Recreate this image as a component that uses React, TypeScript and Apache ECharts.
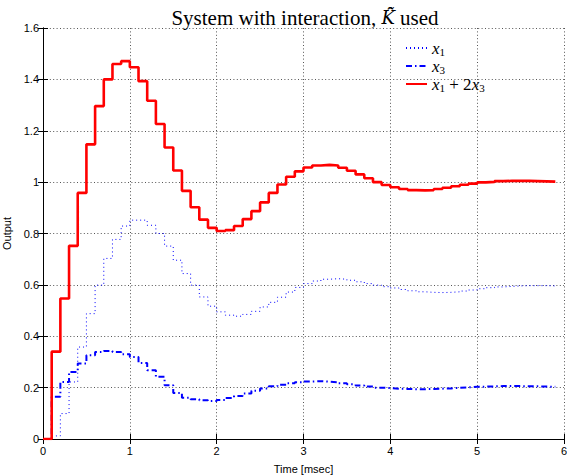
import React, { useEffect, useRef } from "react";
import * as echarts from "echarts";

// sampling instants [msec]
const times = [
  0.0, 0.1, 0.2, 0.3, 0.4, 0.5, 0.6, 0.7, 0.8, 0.9,
  1.0, 1.1, 1.2, 1.3, 1.4, 1.5, 1.6, 1.7, 1.8, 1.9,
  2.0, 2.1, 2.2, 2.3, 2.4, 2.5, 2.6, 2.7, 2.8, 2.9,
  3.0, 3.1, 3.2, 3.3, 3.4, 3.5, 3.6, 3.7, 3.8, 3.9,
  4.0, 4.1, 4.2, 4.3, 4.4, 4.5, 4.6, 4.7, 4.8, 4.9,
  5.0, 5.1, 5.2, 5.3, 5.4, 5.5, 5.6, 5.7, 5.8, 5.9,
];

const x1Values = [
  0, 0.012, 0.099, 0.222, 0.358, 0.488, 0.599, 0.703, 0.777, 0.829,
  0.852, 0.852, 0.832, 0.8, 0.751, 0.696, 0.644, 0.599, 0.553, 0.517,
  0.495, 0.482, 0.478, 0.485, 0.497, 0.514, 0.532, 0.552, 0.572, 0.59,
  0.605, 0.615, 0.622, 0.624, 0.622, 0.618, 0.612, 0.605, 0.599, 0.593,
  0.588, 0.582, 0.577, 0.573, 0.571, 0.57, 0.571, 0.573, 0.576, 0.58,
  0.585, 0.589, 0.592, 0.594, 0.596, 0.597, 0.597, 0.597, 0.596, 0.596,
];

const x3Values = [
  0, 0.164, 0.222, 0.261, 0.294, 0.326, 0.339, 0.343, 0.339, 0.33,
  0.319, 0.296, 0.268, 0.242, 0.209, 0.179, 0.161, 0.155, 0.151, 0.148,
  0.152, 0.16, 0.167, 0.177, 0.188, 0.197, 0.205, 0.211, 0.217, 0.221,
  0.224, 0.225, 0.223, 0.221, 0.217, 0.213, 0.208, 0.204, 0.2, 0.198,
  0.196, 0.195, 0.194, 0.194, 0.195, 0.196, 0.197, 0.199, 0.201, 0.203,
  0.204, 0.205, 0.206, 0.206, 0.206, 0.205, 0.205, 0.204, 0.203, 0.203,
];

const sumValues = [
  0, 0.34, 0.547, 0.752, 0.958, 1.147, 1.296, 1.4, 1.46, 1.471,
  1.447, 1.393, 1.317, 1.226, 1.135, 1.045, 0.966, 0.902, 0.854, 0.822,
  0.81, 0.813, 0.829, 0.856, 0.887, 0.921, 0.958, 0.991, 1.021, 1.042,
  1.057, 1.065, 1.067, 1.065, 1.056, 1.044, 1.03, 1.015, 1.0, 0.989,
  0.98, 0.973, 0.969, 0.968, 0.969, 0.973, 0.978, 0.984, 0.99, 0.994,
  0.999, 1.001, 1.004, 1.005, 1.005, 1.005, 1.004, 1.003, 1.002, 1.001,
];

const seriesNames = ["x1", "x3", "x1+2x3"];
const xTicks = [0, 1, 2, 3, 4, 5, 6];
const yTicks = [0, 0.2, 0.4, 0.6, 0.8, 1, 1.2, 1.4, 1.6];

const sans = "Liberation Sans";
const serif = "Liberation Serif";

const pairs = (vals: number[]) => times.map((t, i) => [t, vals[i]]);

export default function App() {
  const ref = useRef<HTMLDivElement>(null);
  useEffect(() => {
    if (!ref.current) return;
    const chart = echarts.init(ref.current, null, { renderer: "svg" });
    const gridLine = { show: true, lineStyle: { color: "#555", width: 1, type: [1, 2.4] as any } };
    const frameLine = { show: true, lineStyle: { color: "#000", width: 1 } };
    const tickIn = { show: true, inside: true, length: 5, lineStyle: { color: "#000", width: 1 } };
    chart.setOption({
      animation: false,
      backgroundColor: "#fff",
      title: {
        text: "{n|System with interaction, }{k|K\u0302\u0303}{n| used}",
        left: 300,
        textAlign: "center",
        top: 2,
        textStyle: {
          fontWeight: "normal",
          rich: {
            n: { fontFamily: serif, fontSize: 21, fontWeight: "normal", color: "#000" },
            k: { fontFamily: "DejaVu Serif", fontStyle: "italic", fontWeight: "normal", fontSize: 18, color: "#000" },
          },
        },
      },
      legend: {
        orient: "vertical",
        left: 400,
        top: 34,
        itemWidth: 21,
        itemHeight: 10,
        itemGap: 0,
        data: seriesNames,
        itemStyle: { opacity: 0, borderWidth: 0 },
        formatter: (n: string) =>
          n === "x1" ? "{i|x}{s|1}" : n === "x3" ? "{i|x}{s|3}" : "{i|x}{s|1}{n| + 2}{i|x}{s|3}",
        textStyle: {
          color: "#000",
          lineHeight: 15,
          rich: {
            i: { fontFamily: serif, fontStyle: "italic", fontSize: 17, lineHeight: 15, color: "#000" },
            n: { fontFamily: serif, fontSize: 17, lineHeight: 15, color: "#000" },
            s: { fontFamily: serif, fontSize: 11, lineHeight: 8, color: "#000", padding: [7, 0, 0, 0] },
          },
        },
      },
      grid: { left: 43, top: 28, width: 521, height: 411, containLabel: false, outerBoundsMode: "none" },
      xAxis: [
        {
          type: "value",
          min: xTicks[0],
          max: xTicks[xTicks.length - 1],
          interval: 1,
          position: "bottom",
          name: "Time [msec]",
          nameLocation: "middle",
          nameGap: 24,
          nameTextStyle: { fontFamily: sans, fontSize: 11, color: "#000" },
          axisLine: frameLine,
          axisTick: tickIn,
          splitLine: gridLine,
          axisLabel: { fontFamily: sans, fontSize: 11, color: "#000", margin: 6 },
        },
        {
          type: "value",
          min: xTicks[0],
          max: xTicks[xTicks.length - 1],
          interval: 1,
          position: "top",
          axisLine: frameLine,
          axisTick: tickIn,
          splitLine: { show: false },
          axisLabel: { show: false },
        },
      ],
      yAxis: [
        {
          type: "value",
          min: yTicks[0],
          max: yTicks[yTicks.length - 1],
          interval: 0.2,
          position: "left",
          name: "Output",
          nameLocation: "middle",
          nameGap: 29,
          nameTextStyle: { fontFamily: sans, fontSize: 11, color: "#000" },
          axisLine: frameLine,
          axisTick: tickIn,
          splitLine: gridLine,
          axisLabel: { fontFamily: sans, fontSize: 11, color: "#000", margin: 4 },
        },
        {
          type: "value",
          min: yTicks[0],
          max: yTicks[yTicks.length - 1],
          interval: 0.2,
          position: "right",
          axisLine: frameLine,
          axisTick: tickIn,
          splitLine: { show: false },
          axisLabel: { show: false },
        },
      ],
      series: [
        {
          name: seriesNames[0],
          type: "line",
          step: "end",
          symbol: "none",
          data: pairs(x1Values),
          lineStyle: { color: "#0000ff", width: 1, type: [1, 3] },
          itemStyle: { color: "#0000ff" },
          z: 2,
        },
        {
          name: seriesNames[1],
          type: "line",
          step: "end",
          symbol: "none",
          data: pairs(x3Values),
          lineStyle: { color: "#0000ff", width: 2, type: [6, 3, 1.5, 3] },
          itemStyle: { color: "#0000ff" },
          z: 3,
        },
        {
          name: seriesNames[2],
          type: "line",
          step: "end",
          symbol: "none",
          data: pairs(sumValues),
          lineStyle: { color: "#ff0000", width: 2.6 },
          itemStyle: { color: "#ff0000" },
          z: 4,
        },
      ],
    });
    return () => chart.dispose();
  }, []);
  return (
    <div
      ref={ref}
      style={{ position: "fixed", left: 0, top: 0, width: 567, height: 475, background: "#fff" }}
    />
  );
}
